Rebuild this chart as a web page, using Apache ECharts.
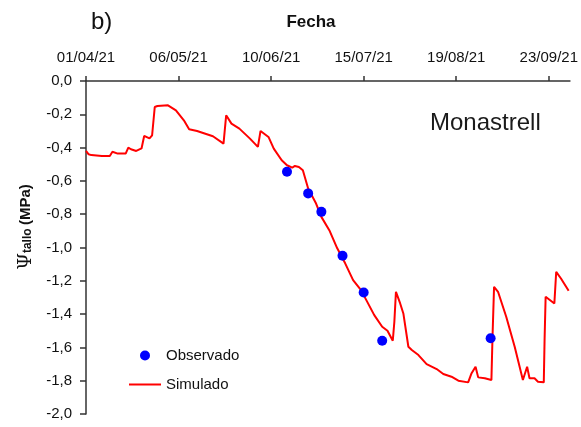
<!DOCTYPE html>
<html>
<head>
<meta charset="utf-8">
<script src="https://cdn.jsdelivr.net/npm/echarts@6/dist/echarts.min.js"></script>
<style>
html,body{margin:0;padding:0;background:#fff;}
#c{width:581px;height:427px;}
</style>
</head>
<body>
<div id="c"></div>
<script>
// x values are days since 01/04/21
const tickLabels = ['01/04/21','06/05/21','10/06/21','15/07/21','19/08/21','23/09/21'];
const tickDays = [0, 35, 70, 105, 140, 175];

const simDays = [0,1,2,6,9,10,12,15,16,17,19,21,22,24,25,26,27,31,34,37,39,42,48,52,53,55,58,62,65,66,69,71,74,76,78,79,80.5,82,84,87,89,92,95,98,101,104,106,109,112,114,116,116.6,117.2,118.8,120,121.9,123.2,125.7,128.8,132.6,135.1,138.2,140.8,144.5,145.8,147.3,148.3,150.8,153.3,153.7,154.3,155.8,158.9,162.1,165.2,166.8,167.7,169.6,170.9,173.1,173.4,173.8,177.1,177.8,179.6,182.5];
const simValues = [-0.42,-0.44,-0.445,-0.45,-0.45,-0.425,-0.436,-0.436,-0.40,-0.41,-0.42,-0.405,-0.33,-0.345,-0.326,-0.156,-0.15,-0.146,-0.176,-0.236,-0.29,-0.30,-0.332,-0.376,-0.206,-0.256,-0.286,-0.346,-0.396,-0.30,-0.336,-0.406,-0.476,-0.506,-0.52,-0.51,-0.516,-0.536,-0.646,-0.736,-0.816,-0.896,-1.005,-1.095,-1.196,-1.256,-1.316,-1.406,-1.476,-1.50,-1.56,-1.446,-1.266,-1.336,-1.396,-1.596,-1.616,-1.646,-1.70,-1.73,-1.76,-1.776,-1.80,-1.81,-1.755,-1.716,-1.78,-1.785,-1.796,-1.545,-1.236,-1.266,-1.416,-1.596,-1.796,-1.716,-1.785,-1.785,-1.806,-1.81,-1.556,-1.296,-1.336,-1.146,-1.186,-1.26];

const obsDays = [76, 84, 89, 97, 105, 112, 153];
const obsValues = [-0.545, -0.675, -0.786, -1.05, -1.27, -1.56, -1.545];

const FONT = 'Liberation Sans, Arial, sans-serif';
const chart = echarts.init(document.getElementById('c'));
chart.setOption({
  animation: false,
  backgroundColor: '#fff',
  grid: {left: 86, top: 81, right: 9, bottom: 13, containLabel: false},
  xAxis: {
    type: 'value', position: 'top', min: 0, max: 183,
    splitLine: {show: false},
    axisLine: {lineStyle: {color: '#333', width: 1.5}},
    axisTick: {length: 5, lineStyle: {color: '#333', width: 1.5}, customValues: tickDays},
    axisLabel: {customValues: tickDays, margin: 16, fontSize: 15, color: '#111', fontFamily: FONT,
      formatter: v => tickLabels[tickDays.indexOf(v)] || ''}
  },
  yAxis: {
    type: 'value', min: -2, max: 0, interval: 0.2,
    splitLine: {show: false},
    axisLine: {show: true, lineStyle: {color: '#333', width: 1.5}},
    axisTick: {show: true, length: 6, lineStyle: {color: '#333', width: 1.5}},
    axisLabel: {margin: 14, fontSize: 15, color: '#111', fontFamily: FONT,
      formatter: v => v.toFixed(1).replace('.', ',')}
  },
  legend: {
    orient: 'vertical', left: 123, top: 343, itemWidth: 32, itemHeight: 10, itemGap: 14,
    textStyle: {fontSize: 15, color: '#111', fontFamily: FONT},
    data: ['Observado', {name: 'Simulado', itemStyle: {opacity: 0}}]
  },
  graphic: [
    {type: 'text', x: 91, y: 22, style: {text: 'b)', fontSize: 24, fontFamily: FONT, fill: '#111', verticalAlign: 'middle', align: 'left'}},
    {type: 'text', x: 311, y: 22, style: {text: 'Fecha', fontSize: 17, fontWeight: 'bold', fontFamily: FONT, fill: '#111', verticalAlign: 'middle', align: 'center'}},
    {type: 'text', x: 430, y: 123, style: {text: 'Monastrell', fontSize: 24, fontFamily: FONT, fill: '#1a1a1a', verticalAlign: 'middle', align: 'left'}},
    {type: 'text', x: 26, y: 227, rotation: Math.PI / 2,
      style: {text: '{psi|Ψ}{sub|tallo} {b|(MPa)}', align: 'center', verticalAlign: 'middle', fill: '#111',
        rich: {
          psi: {fontSize: 19, fontFamily: 'DejaVu Serif, serif', fill: '#111'},
          sub: {fontSize: 12, fontWeight: 'bold', fontFamily: FONT, fill: '#111', padding: [3, 0, 0, 0]},
          b: {fontSize: 15, fontWeight: 'bold', fontFamily: FONT, fill: '#111'}
        }}}
  ],
  series: [
    {name: 'Simulado', type: 'line', data: simDays.map((d, i) => [d, simValues[i]]),
      symbol: 'none', showSymbol: false, lineStyle: {color: '#ff0000', width: 2}, itemStyle: {color: '#ff0000'}, z: 2},
    {name: 'Observado', type: 'scatter', data: obsDays.map((d, i) => [d, obsValues[i]]),
      symbol: 'circle', symbolSize: 10, itemStyle: {color: '#0000ff', opacity: 1}, z: 3}
  ]
});
</script>
</body>
</html>
